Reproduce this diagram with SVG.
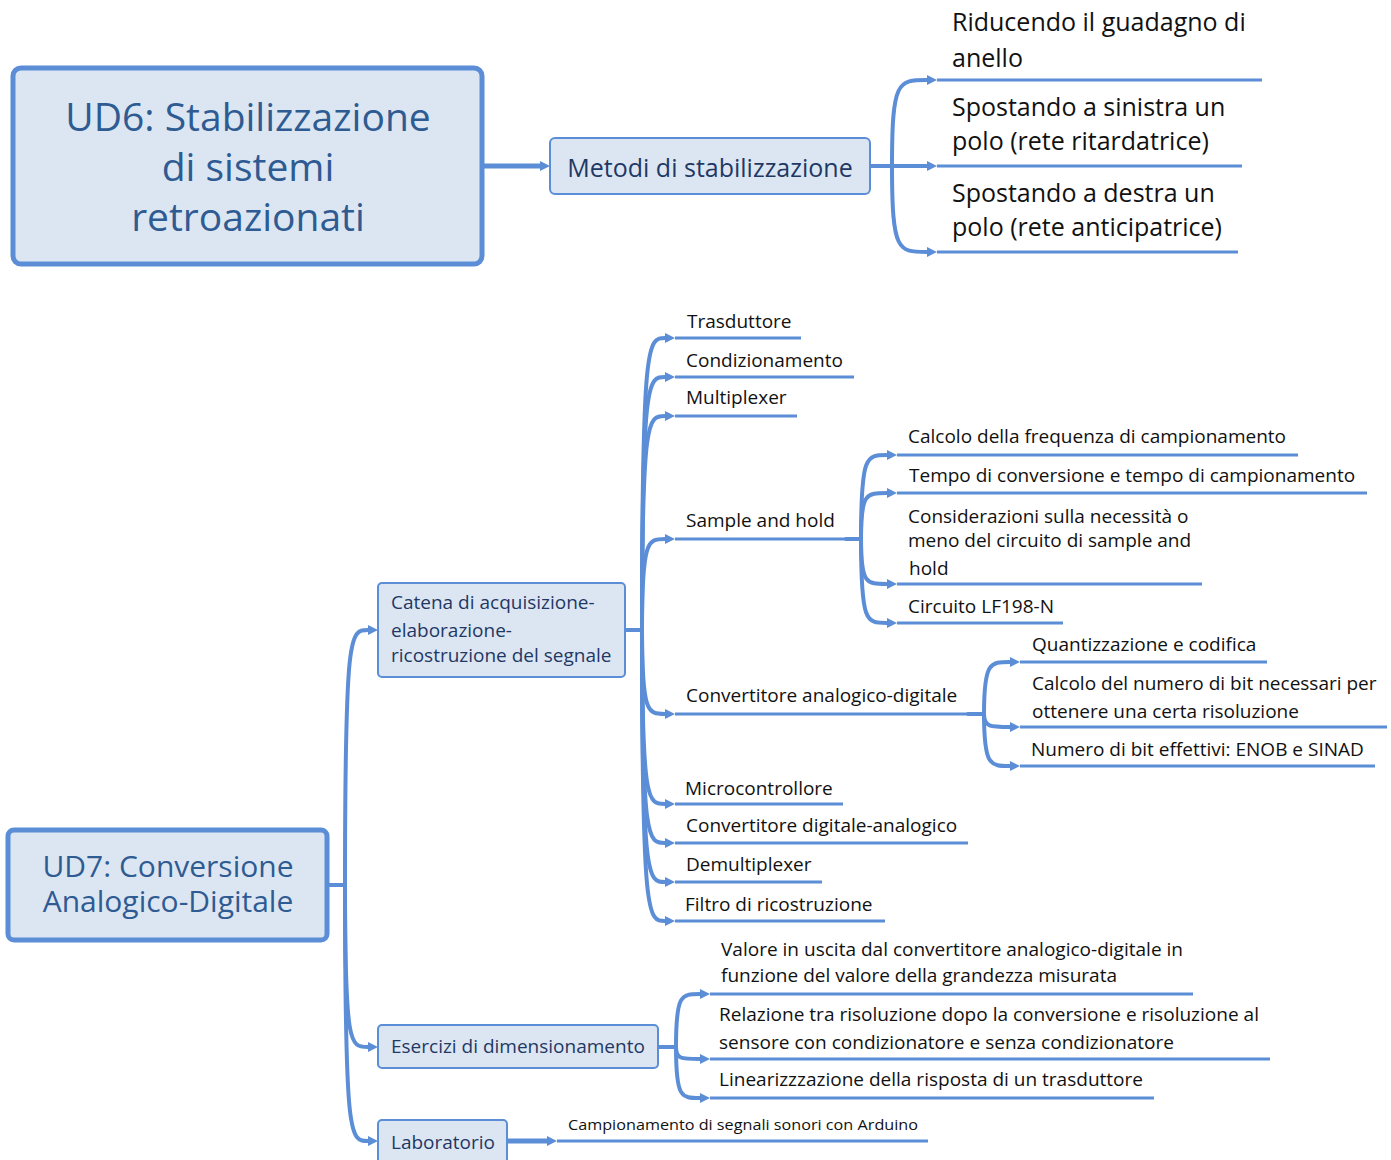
<svg xmlns="http://www.w3.org/2000/svg" width="1391" height="1160" viewBox="0 0 1391 1160">
<style>
.root{fill:#dce6f2;stroke:#5b8ed6;stroke-width:5}
.sub{fill:#dce6f2;stroke:#5b8ed6;stroke-width:2}
.rt{font-family:"Open Sans","Noto Sans","DejaVu Sans",sans-serif;fill:#2e5b92;text-anchor:middle}
.st{font-family:"Open Sans","Noto Sans","DejaVu Sans",sans-serif;fill:#1f3864;font-size:19px}
.lt{font-family:"Open Sans","Noto Sans","DejaVu Sans",sans-serif;fill:#111;font-size:19px}
.big{font-size:25px}
.c{fill:none;stroke:#5b8ed6;stroke-width:4;stroke-linecap:round}
.ca{fill:none;stroke:#5b8ed6;stroke-width:4;marker-end:url(#arr)}
.u{fill:none;stroke:#5b8ed6;stroke-width:3}
</style>
<defs>
<marker id="arr" viewBox="0 0 10 10" refX="0" refY="5" markerWidth="10" markerHeight="10" markerUnits="userSpaceOnUse" orient="auto"><path d="M0,0 L10,5 L0,10 z" fill="#5b8ed6"/></marker>
</defs>

<g id="connectors">
<!-- UD6 -->
<path class="ca" d="M482,166 H540" style="stroke-width:5"/>
<path class="c" d="M870,166 H892"/>
<path class="ca" d="M892,166 C892,80 898,80 927,80"/>
<path class="ca" d="M892,166 H927"/>
<path class="ca" d="M892,166 C892,252 898,252 927,252"/>
<path class="u" d="M937,80 H1262 M937,166 H1242 M937,252 H1238"/>
<!-- UD7 -->
<path class="c" d="M327,885 H345"/>
<path class="ca" d="M345,885 C345,630 350,630 368,630"/>
<path class="ca" d="M345,885 C345,1047 350,1047 368,1047"/>
<path class="ca" d="M345,885 C345,1141 350,1141 368,1141"/>
<!-- Catena -->
<path class="c" d="M625,630 H642"/>
<path class="ca" d="M642,630 C642,338 648,338 665,338"/>
<path class="ca" d="M642,630 C642,377 648,377 665,377"/>
<path class="ca" d="M642,630 C642,416 648,416 665,416"/>
<path class="ca" d="M642,630 C642,539 648,539 665,539"/>
<path class="ca" d="M642,630 C642,714 648,714 665,714"/>
<path class="ca" d="M642,630 C642,804 648,804 665,804"/>
<path class="ca" d="M642,630 C642,843 648,843 665,843"/>
<path class="ca" d="M642,630 C642,882 648,882 665,882"/>
<path class="ca" d="M642,630 C642,921 648,921 665,921"/>
<path class="u" d="M675,338 H801 M675,377 H854 M675,416 H797 M675,539 H846 M675,714 H968 M675,804 H843 M675,843 H968 M675,882 H822 M675,921 H885"/>
<!-- Sample and hold -->
<path class="c" d="M846,539 H861"/>
<path class="ca" d="M861,539 C861,455 866,455 887,455"/>
<path class="ca" d="M861,539 C861,493 866,493 887,493"/>
<path class="ca" d="M861,539 C861,584 866,584 887,584"/>
<path class="ca" d="M861,539 C861,623 866,623 887,623"/>
<path class="u" d="M897,455 H1298 M897,493 H1367 M897,584 H1202 M897,623 H1063"/>
<!-- Convertitore A-D -->
<path class="c" d="M968,714 H984"/>
<path class="ca" d="M984,714 C984,662 990,662 1010,662"/>
<path class="ca" d="M984,714 C984,727 990,727 1010,727"/>
<path class="ca" d="M984,714 C984,766 990,766 1010,766"/>
<path class="u" d="M1020,662 H1267 M1020,727 H1387 M1020,766 H1375"/>
<!-- Esercizi -->
<path class="c" d="M658,1047 H676"/>
<path class="ca" d="M676,1047 C676,994 681,994 700,994"/>
<path class="ca" d="M676,1047 C676,1059 681,1059 700,1059"/>
<path class="ca" d="M676,1047 C676,1098 681,1098 700,1098"/>
<path class="u" d="M710,994 H1193 M710,1059 H1270 M710,1098 H1154"/>
<!-- Laboratorio -->
<path class="ca" d="M507,1141 H547" style="stroke-width:5"/>
<path class="u" d="M557,1141 H928"/>
</g>

<g id="ud6">
<rect class="root" x="13" y="68" width="469" height="196" rx="8"/>
<text class="rt" font-size="39"><tspan x="248" y="131">UD6: Stabilizzazione</tspan><tspan x="248" y="181">di sistemi</tspan><tspan x="248" y="231">retroazionati</tspan></text>
</g>
<g id="metodi">
<rect class="sub" x="550" y="138" width="320" height="56" rx="5"/>
<text class="st" x="710" y="177" text-anchor="middle" style="font-size:25px">Metodi di stabilizzazione</text>
</g>
<g id="riducendo">
<text class="lt big"><tspan x="952" y="31">Riducendo il guadagno di</tspan><tspan x="952" y="67">anello</tspan></text>
</g>
<g id="sinistra">
<text class="lt big"><tspan x="952" y="116">Spostando a sinistra un</tspan><tspan x="952" y="150">polo (rete ritardatrice)</tspan></text>
</g>
<g id="destra">
<text class="lt big"><tspan x="952" y="202">Spostando a destra un</tspan><tspan x="952" y="236">polo (rete anticipatrice)</tspan></text>
</g>

<g id="ud7">
<rect class="root" x="8" y="830" width="319" height="110" rx="6"/>
<text class="rt" font-size="30"><tspan x="168" y="877">UD7: Conversione</tspan><tspan x="168" y="912">Analogico-Digitale</tspan></text>
</g>
<g id="catena">
<rect class="sub" x="378" y="583" width="247" height="94" rx="4"/>
<text class="st"><tspan x="391" y="609">Catena di acquisizione-</tspan><tspan x="391" y="637">elaborazione-</tspan><tspan x="391" y="662">ricostruzione del segnale</tspan></text>
</g>
<g id="esercizi">
<rect class="sub" x="378" y="1025" width="280" height="43" rx="4"/>
<text class="st" x="391" y="1053">Esercizi di dimensionamento</text>
</g>
<g id="laboratorio">
<rect class="sub" x="378" y="1120" width="129" height="46" rx="4"/>
<text class="st" x="391" y="1149">Laboratorio</text>
</g>

<g id="trasduttore"><text class="lt" x="687" y="328">Trasduttore</text></g>
<g id="condizionamento"><text class="lt" x="686" y="367">Condizionamento</text></g>
<g id="multiplexer"><text class="lt" x="686" y="404">Multiplexer</text></g>
<g id="sample"><text class="lt" x="686" y="527">Sample and hold</text></g>
<g id="adc"><text class="lt" x="686" y="702">Convertitore analogico-digitale</text></g>
<g id="micro"><text class="lt" x="685" y="795">Microcontrollore</text></g>
<g id="dac"><text class="lt" x="686" y="832">Convertitore digitale-analogico</text></g>
<g id="demux"><text class="lt" x="686" y="871">Demultiplexer</text></g>
<g id="filtro"><text class="lt" x="685" y="911">Filtro di ricostruzione</text></g>

<g id="calcfreq"><text class="lt" x="908" y="443">Calcolo della frequenza di campionamento</text></g>
<g id="tempo"><text class="lt" x="909" y="482">Tempo di conversione e tempo di campionamento</text></g>
<g id="consid">
<text class="lt"><tspan x="908" y="523">Considerazioni sulla necessità o</tspan><tspan x="908" y="547">meno del circuito di sample and</tspan><tspan x="909" y="575">hold</tspan></text>
</g>
<g id="lf198"><text class="lt" x="908" y="613">Circuito LF198-N</text></g>

<g id="quant"><text class="lt" x="1032" y="651">Quantizzazione e codifica</text></g>
<g id="calcbit">
<text class="lt"><tspan x="1032" y="690">Calcolo del numero di bit necessari per</tspan><tspan x="1032" y="718">ottenere una certa risoluzione</tspan></text>
</g>
<g id="enob"><text class="lt" x="1031" y="756">Numero di bit effettivi: ENOB e SINAD</text></g>

<g id="valore">
<text class="lt" x="721" y="956" textLength="462" lengthAdjust="spacingAndGlyphs">Valore in uscita dal convertitore analogico-digitale in</text>
<text class="lt" x="721" y="982" textLength="396" lengthAdjust="spacingAndGlyphs">funzione del valore della grandezza misurata</text>
</g>
<g id="relazione">
<text class="lt" x="719" y="1021" textLength="540" lengthAdjust="spacingAndGlyphs">Relazione tra risoluzione dopo la conversione e risoluzione al</text>
<text class="lt" x="719" y="1049" textLength="455" lengthAdjust="spacingAndGlyphs">sensore con condizionatore e senza condizionatore</text>
</g>
<g id="linear"><text class="lt" x="719" y="1086" textLength="424" lengthAdjust="spacingAndGlyphs">Linearizzzazione della risposta di un trasduttore</text></g>
<g id="arduino"><text class="lt" style="font-size:15px" x="568" y="1130" textLength="350" lengthAdjust="spacingAndGlyphs">Campionamento di segnali sonori con Arduino</text></g>
</svg>
